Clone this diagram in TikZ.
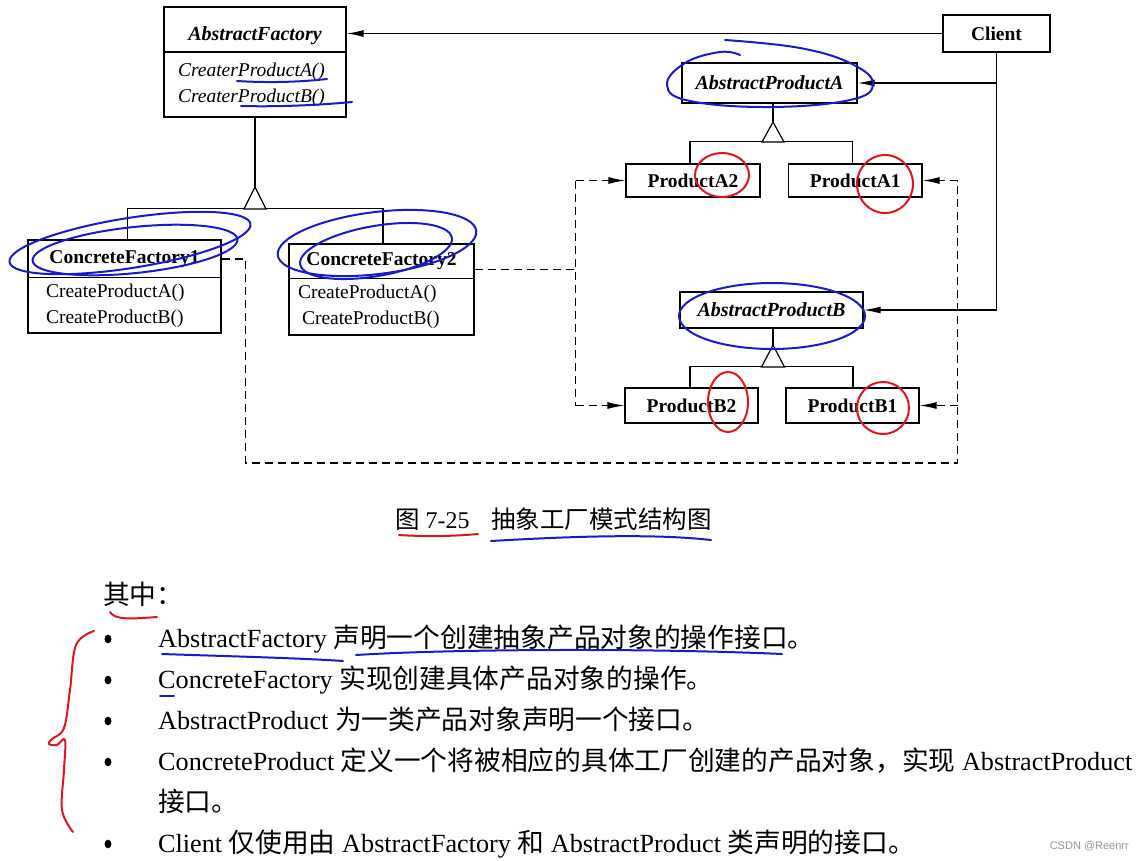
\documentclass[tikz,border=0pt]{standalone}
\usepackage{fontspec}
\setmainfont{Liberation Serif}
\newfontfamily\cjk[Scale=1.02]{Noto Sans CJK SC}
\newfontfamily\wmfont{Liberation Sans}
\usetikzlibrary{arrows.meta}
\definecolor{penblue}{RGB}{25,25,205}
\definecolor{penred}{RGB}{225,20,30}
\definecolor{wmgray}{RGB}{150,150,150}
\begin{document}
\begin{tikzpicture}[x=1pt,y=-1pt,
  box/.style={draw, line width=1.2pt, inner sep=0pt, anchor=center, font=\fontsize{19.5}{26}\selectfont},
  ttl/.style={box, font=\fontsize{19.5}{26}\selectfont\bfseries},
  atl/.style={box, font=\fontsize{20}{26}\selectfont\bfseries\itshape},
  meth/.style={box, align=left},
  ln/.style={line width=1.2pt},
  tip/.style={-{Latex[length=17pt,width=7pt]}},
  arr/.style={ln, tip},
  dsh/.style={ln, dash pattern=on 8pt off 5pt},
  tri/.style={draw, line width=1.2pt, fill=white},
  pen/.style={line width=2pt, line cap=round, line join=round},
  body/.style={anchor=base west, inner sep=0pt, font=\fontsize{26.2}{30}\selectfont},
  captxt/.style={anchor=base west, inner sep=0pt, font=\fontsize{24}{28}\selectfont}
]
\useasboundingbox (0,0) rectangle (1139,860);

% ---------- classes ----------
\node[atl, minimum width=182pt, minimum height=45pt, text height=22pt, text depth=0pt] (afT) at (255,29.5) {AbstractFactory};
\node[meth, minimum width=182pt, minimum height=65pt, text width=154pt,
      font=\fontsize{19.5}{26}\selectfont\itshape] (afM) at (255,84.5) {CreaterProductA()\\CreaterProductB()};

\node[ttl, minimum width=107pt, minimum height=37pt] (cl) at (996.5,33.5) {Client};

\node[ttl, minimum width=193pt, minimum height=37.7pt] (cf1T) at (124.5,258.9) {ConcreteFactory1};
\node[meth, minimum width=193pt, minimum height=55.3pt, text width=157pt] (cf1M) at (124.5,305.35) {CreateProductA()\\CreateProductB()};

\node[ttl, minimum width=185pt, minimum height=34.7pt] (cf2T) at (381.5,261.35) {ConcreteFactory2};
\node[meth, minimum width=185pt, minimum height=56.3pt, text width=167pt] (cf2M) at (381.5,306.85) {CreateProductA()\\\hspace*{4pt}CreateProductB()};

\node[atl, minimum width=175pt, minimum height=40pt] (apa) at (769.5,83) {AbstractProductA};
\node[atl, minimum width=183pt, minimum height=36pt] (apb) at (771.5,310) {AbstractProductB};

\node[ttl, minimum width=134pt, minimum height=33pt] (pa2) at (693,180.5) {ProductA2};
\node[ttl, minimum width=133.5pt, minimum height=33pt] (pa1) at (855.25,180.5) {ProductA1};
\node[ttl, minimum width=133pt, minimum height=35pt] (pb2) at (691.5,405.5) {ProductB2};
\node[ttl, minimum width=133pt, minimum height=35pt] (pb1) at (852.5,405.5) {ProductB1};

% ---------- inheritance ----------
\coordinate (afApex) at (255,187);
\draw[ln] (afM.south) -- (afApex);
\draw[ln] ([xshift=3pt]cf1T.north) -- ++(0,-31) -| ([xshift=1.5pt]cf2T.north);
\draw[tri] (afApex) -- ++(11,22) -- ++(-22,0) -- cycle;

\coordinate (apaApex) at (773,122);
\draw[ln] (apa.south -| apaApex) -- (apaApex);
\draw[ln] ([xshift=-3pt]pa2.north) -- ++(0,-22) -| ([xshift=-3pt]pa1.north);
\draw[tri] (apaApex) -- ++(11,20) -- ++(-22,0) -- cycle;

\coordinate (apbApex) at (773,345);
\draw[ln] (apb.south -| apbApex) -- (apbApex);
\draw[ln] ([xshift=-1.5pt]pb2.north) -- ++(0,-21) -| ([xshift=0.5pt]pb1.north);
\draw[tri] (apbApex) -- ++(11.5,22) -- ++(-23,0) -- cycle;

% ---------- client associations ----------
\draw[arr] (cl.west) -- (cl.west -| afT.east);
\draw[arr] (cl.south |- apa.east) -- (apa.east);
\draw[arr] (cl.south) |- (apb.east);

% ---------- dashed dependencies ----------
\coordinate (dL) at (575.5,0);
\coordinate (dR) at (957.5,0);
\coordinate (dB) at (0,463);
\draw[dsh] (cf1T.east) -- ++(24,0) |- (dR |- dB) -- (dR |- pa1.east);
\draw[dsh, tip] (dR |- pa1.east) -- (pa1.east);
\draw[dsh, tip] (dR |- pb1.east) -- (pb1.east);

\coordinate (j2) at (575.5,269.35);
\draw[dsh] ([yshift=-8pt]cf2T.east) -- (j2);
\draw[dsh] (dL |- pa2.west) -- (dL |- pb2.west);
\draw[dsh, tip] (dL |- pa2.west) -- (pa2.west);
\draw[dsh, tip] (dL |- pb2.west) -- (pb2.west);

% ---------- caption ----------
\node[captxt] (capA) at (395,528) {{\cjk 图} 7-25};
\node[captxt] (capB) at (491,528) {\cjk 抽象工厂模式结构图};

% ---------- body text ----------
\node[body] (t0) at (103,604) {\cjk 其中：};
\node[body] (t1) at (158,647) {AbstractFactory {\cjk 声明一个创建抽象产品对象的操作接口。}};
\node[body] (t2) at (158,688) {ConcreteFactory {\cjk 实现创建具体产品对象的操作。}};
\node[body] (t3) at (158,729) {AbstractProduct {\cjk 为一类产品对象声明一个接口。}};
\node[body] (t4) at (158,770) {ConcreteProduct {\cjk 定义一个将被相应的具体工厂创建的产品对象，实现} AbstractProduct};
\node[body] (t5) at (158,811) {\cjk 接口。};
\node[body] (t6) at (158,852) {Client {\cjk 仅使用由} AbstractFactory {\cjk 和} AbstractProduct {\cjk 类声明的接口。}};
\foreach \yy in {639,680,721,762,844}{
  \fill (108,\yy) ellipse [x radius=3.5, y radius=4.3];
}

\node[anchor=base east, inner sep=0pt, text=wmgray, font=\wmfont\fontsize{11}{13}\selectfont] (wm) at (1129,849) {CSDN @Reenrr};

% ---------- hand annotations ----------
\draw[pen,penblue] (237,81) .. controls (270,83) and (300,82) .. (327,79);
\draw[pen,penblue] (241,106) .. controls (280,107) and (320,105) .. (352,102);
\draw[pen,penblue,rotate around={9:(130,243)}] (130,243) ellipse [x radius=122, y radius=25];
\draw[pen,penblue,rotate around={6:(135,250)}] (135,250) ellipse [x radius=103, y radius=23];
\draw[pen,penblue,rotate around={7:(377,243)}] (377,243) ellipse [x radius=100, y radius=31];
\draw[pen,penblue,rotate around={10:(376,251)}] (376,251) ellipse [x radius=77, y radius=25];
\draw[pen,penblue] plot[smooth, tension=0.7] coordinates {(725,40) (800,48) (852,64) (873,84) (850,100) (770,107) (690,101) (667,85) (685,63) (720,52) (740,55)};
\draw[pen,penblue] (772,316) ellipse [x radius=93, y radius=33];
\draw[pen,penred] (722,175) ellipse [x radius=27, y radius=22];
\draw[pen,penred] (885,184) ellipse [x radius=28, y radius=29];
\draw[pen,penred] (728,402) ellipse [x radius=20, y radius=30];
\draw[pen,penred] (883,408) ellipse [x radius=26, y radius=26];

\draw[pen,penred] (399,535) .. controls (430,537) and (455,536) .. (478,534);
\draw[pen,penblue] (491,541) .. controls (560,537) and (650,533) .. (711,540);
\draw[pen,penred] (110,612) .. controls (115,620) and (130,619) .. (157,617);
\draw[pen,penblue] (162,654) .. controls (220,656) and (300,658) .. (343,661);
\draw[pen,penblue] (356,655) .. controls (450,649) and (650,648) .. (782,654);
\draw[pen,penblue] (160,696) -- (174,696);
\draw[pen,penred] plot[smooth, tension=0.6] coordinates {(94,631) (76,645) (70,690) (64,728) (52,739) (49,744) (57,745) (65,740) (64,770) (62,810) (73,832)};
\end{tikzpicture}
\end{document}
